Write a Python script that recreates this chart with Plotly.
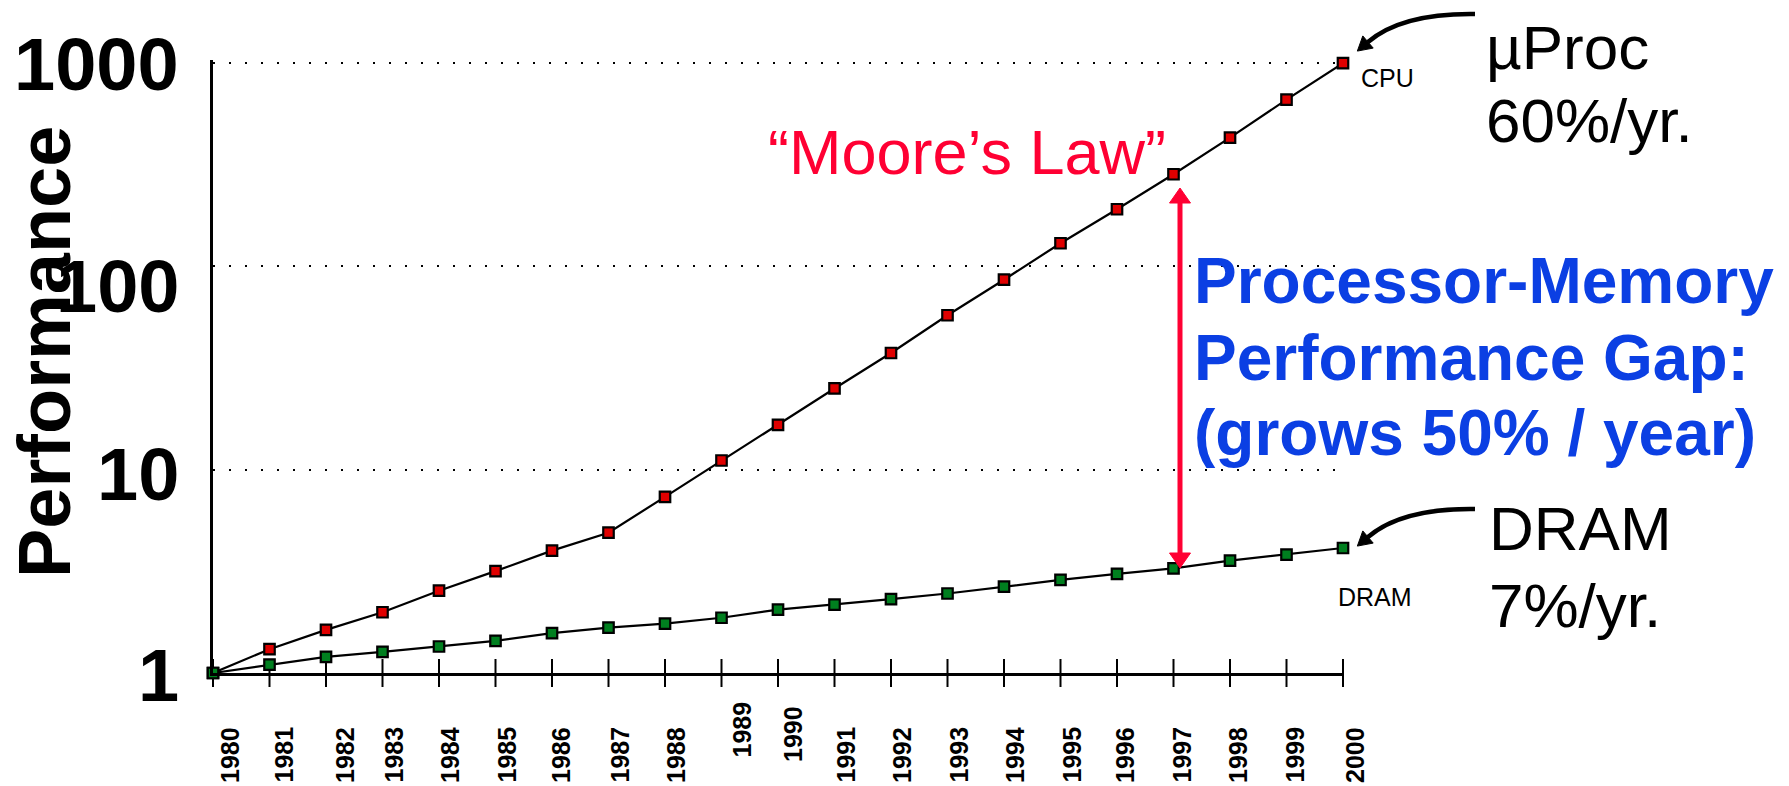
import math
import plotly.graph_objects as go

# ---------------- data ----------------
years = list(range(1980, 2001))
year_labels = [str(y) for y in years]
cpu_perf = [1, 1.31, 1.63, 1.99, 2.54, 3.17, 4.0, 4.9, 7.35, 11.1, 16.6,
            25.1, 37.5, 57.5, 86, 130, 191, 284, 430, 661, 1000]
dram_perf = [1, 1.10, 1.20, 1.27, 1.35, 1.44, 1.57, 1.67, 1.75, 1.87, 2.05,
             2.17, 2.31, 2.46, 2.66, 2.87, 3.07, 3.27, 3.57, 3.82, 4.12]
y_tick_vals = [1, 10, 100, 1000]
y_tick_text = ["1", "10", "100", "1000"]

# ---------------- layout helpers ----------------
W, H = 1789, 786
L, R, T, B = 213, 1343, 60, 673          # plot-area pixel box
DECADE_PX = 203.3
Y_TOP = (B - T) / DECADE_PX              # log10 value at top of plot area
FONT = "Arial, 'Liberation Sans', Helvetica, sans-serif"
RED_TXT = "#FF0033"
BLUE_TXT = "#0B3FE3"
CPU_FILL = "#E00000"
DRAM_FILL = "#007F1F"


def px(x):
    return (x - L) / (R - L)


def py(y):
    return (B - y) / (B - T)


fig = go.Figure()

# axis tick marks crossing the x axis
fig.add_trace(go.Scatter(
    x=years, y=[1] * len(years), mode="markers",
    marker=dict(symbol="line-ns", size=20, line=dict(width=2, color="black")),
    cliponaxis=False, hoverinfo="skip", showlegend=False))

fig.add_trace(go.Scatter(
    x=years, y=cpu_perf, mode="lines+markers", name="CPU",
    line=dict(color="black", width=2.2),
    marker=dict(symbol="square", size=10.5, color=CPU_FILL,
                line=dict(color="black", width=2.2)),
    cliponaxis=False, showlegend=False))

fig.add_trace(go.Scatter(
    x=years, y=dram_perf, mode="lines+markers", name="DRAM",
    line=dict(color="black", width=2.2),
    marker=dict(symbol="square", size=10.5, color=DRAM_FILL,
                line=dict(color="black", width=2.2)),
    cliponaxis=False, showlegend=False))

annotations = []

# rotated year labels
label_xshift = {1980: 17, 1981: 14, 1982: 19, 1986: 9, 1989: 20, 1990: 15,
                1996: 8, 1997: 8, 1998: 8, 1999: 8, 2000: 12}
label_raise = {1989: 25, 1990: 21}
for yr, lab in zip(years, year_labels):
    annotations.append(dict(
        x=yr, xref="x", y=0, yref="paper", text=lab, showarrow=False,
        textangle=-90, xanchor="center", yanchor="top",
        xshift=label_xshift.get(yr, 11), yshift=-52 + label_raise.get(yr, 0),
        font=dict(family=FONT, size=25, color="black", weight="bold")))

# y tick labels (the "100" sits a little below its gridline in the original)
ytick_yshift = {100: -20, 10: -5, 1: -2, 1000: -1}
for v, t in zip(y_tick_vals, y_tick_text):
    annotations.append(dict(
        x=px(181), xref="paper", y=math.log10(v), yref="y", text=t,
        showarrow=False, xanchor="right", yanchor="middle",
        yshift=ytick_yshift.get(v, 0),
        font=dict(family=FONT, size=74, color="black", weight="bold")))


def text_ann(text, x, y, size, color="black", bold=False, xanchor="left", angle=0):
    return dict(text=text, x=px(x), y=py(y), xref="paper", yref="paper",
                showarrow=False, xanchor=xanchor, yanchor="middle", textangle=angle,
                font=dict(family=FONT, size=size, color=color,
                          weight="bold" if bold else "normal"))


annotations += [
    text_ann("Performance", 44, 352, 74, bold=True, xanchor="center", angle=-90),
    text_ann("\u201cMoore\u2019s Law\u201d", 967, 152, 63, color=RED_TXT, xanchor="center"),
    text_ann("Processor-Memory", 1192, 281, 64, color=BLUE_TXT, bold=True),
    text_ann("Performance Gap:", 1192, 358, 64, color=BLUE_TXT, bold=True),
    text_ann("(grows 50% / year)", 1192, 433, 64, color=BLUE_TXT, bold=True),
    text_ann("\u00b5Proc", 1484, 47, 62),
    text_ann("60%/yr.", 1484, 120, 62),
    text_ann("DRAM", 1487, 528, 62),
    text_ann("7%/yr.", 1487, 605, 62),
    text_ann("CPU", 1359, 78, 25),
    text_ann("DRAM", 1336, 597, 25),
]

shapes = []


def curved_arrow(x0, y0, cx, cy, x1, y1, head_len=14, half_w=8, width=4.5):
    dx, dy = x1 - cx, y1 - cy
    n = (dx * dx + dy * dy) ** 0.5
    ux, uy = dx / n, dy / n
    tip = (x1 + ux * head_len, y1 + uy * head_len)
    b1 = (x1 - uy * half_w, y1 + ux * half_w)
    b2 = (x1 + uy * half_w, y1 - ux * half_w)
    out = [dict(type="path", xref="paper", yref="paper",
                path=f"M {px(x0)},{py(y0)} Q {px(cx)},{py(cy)} {px(x1)},{py(y1)}",
                line=dict(color="black", width=width))]
    out.append(dict(type="path", xref="paper", yref="paper",
                    path=(f"M {px(tip[0])},{py(tip[1])} L {px(b1[0])},{py(b1[1])} "
                          f"L {px(b2[0])},{py(b2[1])} Z"),
                    fillcolor="black", line=dict(color="black", width=1)))
    return out


shapes += curved_arrow(1475, 14, 1402, 13, 1368, 42)
shapes += curved_arrow(1475, 509, 1402, 508, 1368, 537)

# red double-headed gap arrow
AX = 1180
shapes.append(dict(type="line", xref="paper", yref="paper",
                   x0=px(AX), y0=py(200), x1=px(AX), y1=py(556),
                   line=dict(color=RED_TXT, width=5)))
shapes.append(dict(type="path", xref="paper", yref="paper",
                   path=(f"M {px(AX)},{py(188)} L {px(AX - 10.5)},{py(203)} "
                         f"L {px(AX + 10.5)},{py(203)} Z"),
                   fillcolor=RED_TXT, line=dict(color=RED_TXT, width=1)))
shapes.append(dict(type="path", xref="paper", yref="paper",
                   path=(f"M {px(AX)},{py(568)} L {px(AX - 10.5)},{py(553)} "
                         f"L {px(AX + 10.5)},{py(553)} Z"),
                   fillcolor=RED_TXT, line=dict(color=RED_TXT, width=1)))

fig.update_layout(
    width=W, height=H,
    margin=dict(l=L, r=W - R, t=T, b=H - B, pad=0),
    paper_bgcolor="white", plot_bgcolor="white",
    showlegend=False,
    annotations=annotations,
    shapes=shapes,
    xaxis=dict(range=[1980, 2000], showgrid=False, zeroline=False,
               showline=True, linecolor="black", linewidth=2.5,
               showticklabels=False, ticks=""),
    yaxis=dict(type="log", range=[0, Y_TOP], tickvals=y_tick_vals, ticktext=y_tick_text,
               showticklabels=False,
               showgrid=True, gridcolor="black", griddash="2px,14px", gridwidth=2,
               showline=True, linecolor="black", linewidth=2.5,
               zeroline=False, ticks=""),
)

fig.write_html("out.html", config={"displayModeBar": False},
               post_script="document.body.style.margin='0px';")
